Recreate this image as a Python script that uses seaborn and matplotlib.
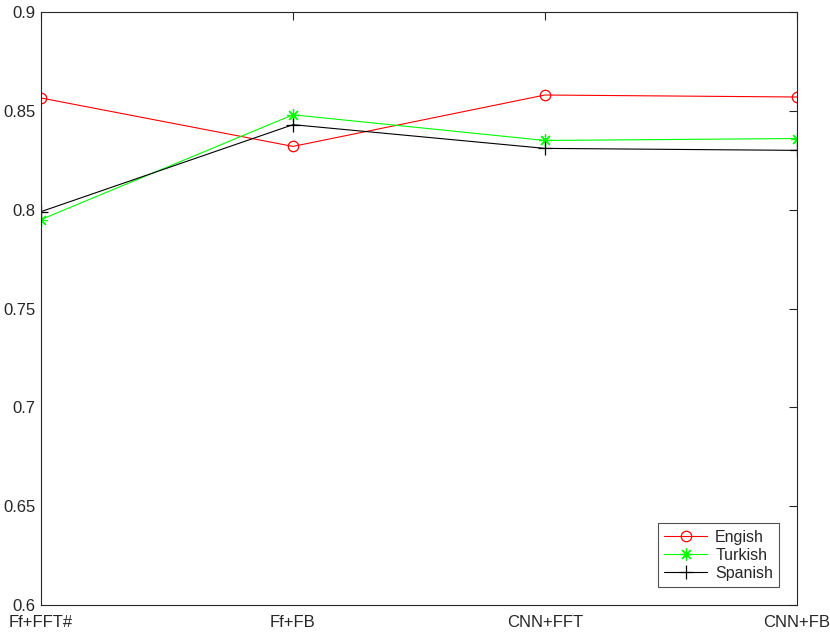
import matplotlib
matplotlib.use("Agg")
import matplotlib.pyplot as plt
import pandas as pd
import seaborn as sns

sns.set_style("white")
plt.rcParams["font.family"] = ["Liberation Sans", "DejaVu Sans"]

methods = ["Ff+FFT#", "Ff+FB", "CNN+FFT", "CNN+FB"]
english = [0.8565, 0.832, 0.858, 0.857]
turkish = [0.795, 0.848, 0.835, 0.836]
spanish = [0.799, 0.843, 0.831, 0.830]

series = [
    ("Engish", english, "#ff0000", "o", 7.5),
    ("Turkish", turkish, "#00ff00", (8, 2, 0), 9),
    ("Spanish", spanish, "#000000", "+", 10),
]

fig = plt.figure(figsize=(8.3, 6.38), dpi=100)
ax = fig.add_axes([0.0494, 0.0517, 0.9108, 0.9295])

for name, vals, color, marker, ms in series:
    df = pd.DataFrame({"x": range(len(methods)), "y": vals})
    sns.lineplot(data=df, x="x", y="y", ax=ax, color=color, marker=marker,
                 markersize=ms, markerfacecolor="none", markeredgecolor=color,
                 markeredgewidth=0.9, linewidth=0.8, label=name)

ax.set_xlim(0, len(methods) - 1)
ax.set_ylim(0.6, 0.9)
ax.set_xticks(range(len(methods)))
ax.set_xticklabels(methods)
ax.set_yticks([0.6, 0.65, 0.7, 0.75, 0.8, 0.85, 0.9])
ax.set_yticklabels(["0.6", "0.65", "0.7", "0.75", "0.8", "0.85", "0.9"])
ax.set_xlabel("")
ax.set_ylabel("")
ax.tick_params(direction="in", length=6, width=0.8, top=True, right=True,
               labelsize=12, colors="#262626")
ax.tick_params(axis="x", pad=7)
ax.tick_params(axis="y", pad=4)
for side in ["left", "bottom", "top", "right"]:
    ax.spines[side].set_visible(True)
    ax.spines[side].set_color("#262626")
    ax.spines[side].set_linewidth(0.8)

leg = ax.legend(loc="lower right", fontsize=11.5, frameon=True, fancybox=False,
                edgecolor="#262626", borderaxespad=1.1, handlelength=2.7,
                handletextpad=0.5, labelspacing=0.2, borderpad=0.4)
leg.get_frame().set_linewidth(0.8)

fig.savefig("out.png", dpi=100)
